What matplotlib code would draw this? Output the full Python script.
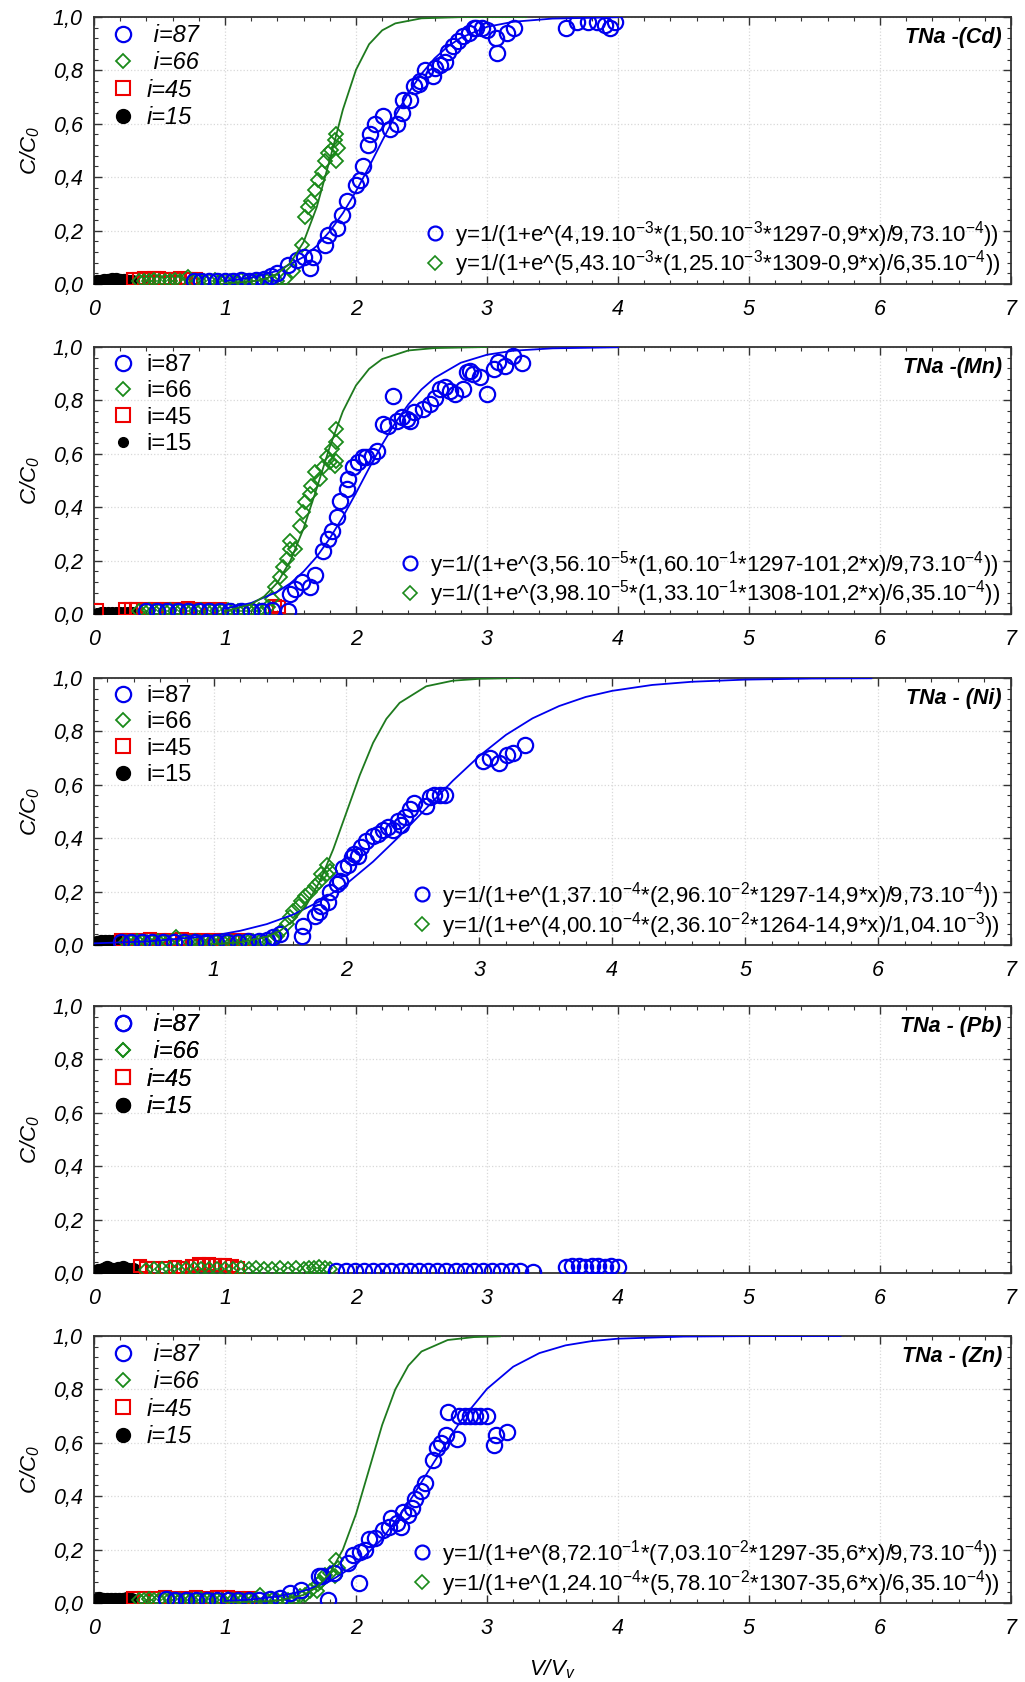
import matplotlib
matplotlib.use('Agg')
import matplotlib.pyplot as plt
from matplotlib.lines import Line2D
from matplotlib.ticker import MultipleLocator, AutoMinorLocator, FuncFormatter

plt.rcParams['font.family'] = ['Liberation Sans', 'DejaVu Sans']
plt.rcParams['font.style'] = 'italic'
plt.rcParams['mathtext.default'] = 'regular'

BLUE = '#0000ee'
GREEN = '#1a8a1a'
GREEN_LINE = '#1e7a1e'
RED = '#ee0000'

# ---------------------------------------------------------------- Cd
cd_x15 = [0.02, 0.05, 0.08, 0.11, 0.14, 0.17, 0.20, 0.23, 0.26, 0.29]
cd_y15 = [0.006, 0.008, 0.010, 0.012, 0.015, 0.013, 0.011, 0.010, 0.009, 0.008]
cd_x45 = [0.30, 0.34, 0.38, 0.42, 0.46, 0.50, 0.54, 0.58, 0.62, 0.66, 0.70, 0.74, 0.78]
cd_y45 = [0.018, 0.020, 0.021, 0.020, 0.022, 0.021, 0.020, 0.019, 0.020, 0.021, 0.019, 0.018, 0.017]
cd_x66 = [0.34, 0.38, 0.42, 0.46, 0.50, 0.54, 0.58, 0.62, 0.66, 0.72, 0.76, 0.80, 0.84, 0.88,
          0.92, 0.96, 1.00, 1.04, 1.08, 1.12, 1.16, 1.20, 1.24, 1.28, 1.32, 1.36, 1.40,
          1.46, 1.52, 1.585, 1.61, 1.636, 1.66, 1.687, 1.712, 1.738, 1.763, 1.79, 1.81, 1.84,
          1.85, 1.85, 1.865]
cd_y66 = [0.010, 0.012, 0.011, 0.013, 0.012, 0.010, 0.012, 0.013, 0.011, 0.027, 0.012, 0.010,
          0.012, 0.011, 0.013, 0.012, 0.010, 0.012, 0.011, 0.013, 0.012, 0.010, 0.011, 0.012,
          0.010, 0.011, 0.012,
          0.02, 0.05, 0.146, 0.25, 0.29, 0.31, 0.35, 0.39, 0.42, 0.46, 0.49, 0.50, 0.54,
          0.56, 0.46, 0.51]
cd_x87 = [0.76, 0.82, 0.88, 0.94, 1.00, 1.06, 1.12, 1.18, 1.24, 1.30, 1.35, 1.40, 1.48, 1.55,
          1.60, 1.649, 1.674, 1.763, 1.789, 1.852, 1.89, 1.929, 2.0, 2.03, 2.056, 2.094, 2.107,
          2.145, 2.21, 2.26, 2.31, 2.35, 2.36, 2.41, 2.44, 2.48, 2.49, 2.53, 2.59, 2.60, 2.64,
          2.68, 2.70, 2.74, 2.78, 2.82, 2.86, 2.90, 2.92, 2.96, 3.0, 3.08, 3.07, 3.15, 3.21,
          3.60, 3.69, 3.77, 3.84, 3.90, 3.94, 3.98]
cd_y87 = [0.010, 0.012, 0.011, 0.012, 0.010, 0.011, 0.013, 0.012, 0.015, 0.020, 0.030, 0.040,
          0.07, 0.09, 0.10, 0.059, 0.102, 0.146, 0.184, 0.21, 0.26, 0.31, 0.37, 0.39, 0.44,
          0.52, 0.56, 0.60, 0.63, 0.58, 0.60, 0.64, 0.69, 0.69, 0.74, 0.75, 0.76, 0.80, 0.78,
          0.81, 0.82, 0.83, 0.87, 0.89, 0.91, 0.93, 0.94, 0.96, 0.96, 0.96, 0.95, 0.865, 0.92,
          0.94, 0.96, 0.96, 0.98, 0.98, 0.98, 0.97, 0.96, 0.98]
cd_fx87 = [1.0, 1.2, 1.4, 1.6, 1.7, 1.8, 1.9, 2.0, 2.1, 2.2, 2.3, 2.4, 2.5, 2.6, 2.7, 2.8,
           3.0, 3.2, 3.5, 4.0]
cd_fy87 = [0.011, 0.023, 0.049, 0.101, 0.142, 0.197, 0.265, 0.347, 0.439, 0.536, 0.630, 0.715,
           0.787, 0.845, 0.889, 0.922, 0.963, 0.982, 0.994, 0.999]
cd_fx66 = [1.0, 1.2, 1.3, 1.4, 1.5, 1.6, 1.7, 1.8, 1.9, 2.0, 2.1, 2.2, 2.3, 2.5, 2.8, 3.3]
cd_fy66 = [0.002, 0.009, 0.018, 0.038, 0.079, 0.157, 0.287, 0.465, 0.653, 0.802, 0.898, 0.950,
           0.976, 0.995, 0.9995, 1.0]
cd_eq87 = 'y=1/(1+e^(4,19.10$^{-3}$*(1,50.10$^{-3}$*1297-0,9*x)/9,73.10$^{-4}$))'
cd_eq66 = 'y=1/(1+e^(5,43.10$^{-3}$*(1,25.10$^{-3}$*1309-0,9*x)/6,35.10$^{-4}$))'

# ---------------------------------------------------------------- Mn
mn_x15 = [0.02, 0.05, 0.08, 0.11, 0.14, 0.17, 0.20, 0.23, 0.26, 0.29]
mn_y15 = [0.005, 0.006, 0.007, 0.006, 0.008, 0.007, 0.006, 0.007, 0.008, 0.006]
mn_x45 = [0.02, 0.24, 0.28, 0.32, 0.40, 0.48, 0.56, 0.64, 0.72, 0.80, 0.88, 0.96, 1.38, 1.41]
mn_y45 = [0.015, 0.018, 0.020, 0.019, 0.018, 0.020, 0.019, 0.020, 0.021, 0.019, 0.018, 0.017,
          0.030, 0.025]
mn_x66 = [0.34, 0.38, 0.42, 0.46, 0.50, 0.54, 0.58, 0.62, 0.66, 0.70, 0.74, 0.78, 0.82, 0.86,
          0.90, 0.94, 0.98, 1.02, 1.06, 1.10, 1.14, 1.18, 1.22, 1.26, 1.30,
          1.33, 1.356, 1.38, 1.42, 1.445, 1.47, 1.496, 1.496, 1.534, 1.573, 1.598, 1.61, 1.649,
          1.66, 1.687, 1.725, 1.75, 1.776, 1.80, 1.814, 1.84, 1.85, 1.85, 1.85]
mn_y66 = [0.012, 0.011, 0.013, 0.012, 0.010, 0.012, 0.013, 0.011, 0.012, 0.010, 0.012, 0.011,
          0.013, 0.012, 0.010, 0.011, 0.012, 0.013, 0.011, 0.012, 0.010, 0.012, 0.011, 0.013,
          0.012,
          0.025, 0.056, 0.10, 0.137, 0.175, 0.206, 0.243, 0.275, 0.243, 0.33, 0.38, 0.418, 0.45,
          0.48, 0.53, 0.506, 0.55, 0.587, 0.57, 0.618, 0.556, 0.574, 0.643, 0.693]
mn_x87 = [0.40, 0.48, 0.56, 0.64, 0.72, 0.80, 0.88, 0.96, 1.04, 1.12, 1.20, 1.28, 1.36,
          1.483, 1.496, 1.534, 1.585, 1.649, 1.687, 1.751, 1.789, 1.814, 1.852, 1.878, 1.929,
          1.94, 1.98, 2.018, 2.056, 2.08, 2.12, 2.158, 2.209, 2.247, 2.285, 2.31, 2.35, 2.387,
          2.41, 2.44, 2.51, 2.565, 2.60, 2.64, 2.68, 2.72, 2.755, 2.82, 2.845, 2.87, 2.896,
          2.946, 3.0, 3.05, 3.086, 3.137, 3.20, 3.27]
mn_y87 = [0.010, 0.011, 0.012, 0.010, 0.011, 0.012, 0.010, 0.011, 0.012, 0.010, 0.011, 0.012,
          0.015,
          0.012, 0.075, 0.094, 0.119, 0.10, 0.144, 0.237, 0.281, 0.312, 0.362, 0.424, 0.468,
          0.506, 0.55, 0.568, 0.587, 0.587, 0.593, 0.612, 0.712, 0.705, 0.818, 0.724, 0.737,
          0.73, 0.724, 0.755, 0.768, 0.787, 0.81, 0.843, 0.85, 0.836, 0.824, 0.843, 0.905,
          0.911, 0.899, 0.886, 0.824, 0.918, 0.943, 0.93, 0.966, 0.94]
mn_fx87 = [1.0, 1.2, 1.4, 1.5, 1.6, 1.7, 1.8, 1.9, 2.0, 2.1, 2.2, 2.3, 2.4, 2.5, 2.6, 2.8,
           3.0, 3.2, 3.5, 4.0]
mn_fy87 = [0.020, 0.041, 0.083, 0.115, 0.159, 0.214, 0.283, 0.364, 0.453, 0.546, 0.635, 0.716,
           0.785, 0.841, 0.884, 0.941, 0.971, 0.986, 0.995, 0.999]
mn_fx66 = [1.0, 1.2, 1.3, 1.4, 1.5, 1.6, 1.7, 1.8, 1.9, 2.0, 2.1, 2.2, 2.4, 2.6, 3.0]
mn_fy66 = [0.010, 0.036, 0.066, 0.117, 0.200, 0.320, 0.470, 0.626, 0.759, 0.856, 0.918, 0.955,
           0.987, 0.996, 1.0]
mn_eq87 = 'y=1/(1+e^(3,56.10$^{-5}$*(1,60.10$^{-1}$*1297-101,2*x)/9,73.10$^{-4}$))'
mn_eq66 = 'y=1/(1+e^(3,98.10$^{-5}$*(1,33.10$^{-1}$*1308-101,2*x)/6,35.10$^{-4}$))'

# ---------------------------------------------------------------- Ni
ni_x15 = [0.12, 0.15, 0.18, 0.21, 0.24, 0.27, 0.30]
ni_y15 = [0.008, 0.010, 0.012, 0.011, 0.010, 0.012, 0.009]
ni_x45 = [0.30, 0.36, 0.44, 0.52, 0.60, 0.68, 0.76, 0.84, 0.92, 1.00, 1.08, 1.16, 1.24]
ni_y45 = [0.018, 0.020, 0.019, 0.021, 0.020, 0.019, 0.021, 0.020, 0.018, 0.019, 0.020, 0.019,
          0.018]
ni_x66 = [0.34, 0.38, 0.42, 0.46, 0.50, 0.54, 0.58, 0.62, 0.66, 0.72, 0.78, 0.82, 0.86, 0.90,
          0.94, 0.98, 1.02, 1.06, 1.10, 1.14, 1.18, 1.22, 1.26, 1.30, 1.34, 1.38, 1.42,
          1.45, 1.475, 1.51, 1.55, 1.575, 1.60, 1.64, 1.66, 1.69, 1.725, 1.76, 1.79, 1.81, 1.85,
          1.85, 1.875]
ni_y66 = [0.012, 0.011, 0.013, 0.012, 0.010, 0.012, 0.013, 0.011, 0.012, 0.03, 0.012, 0.011,
          0.013, 0.012, 0.010, 0.011, 0.012, 0.013, 0.011, 0.012, 0.010, 0.012, 0.011, 0.013,
          0.012, 0.011, 0.012,
          0.022, 0.035, 0.054, 0.079, 0.104, 0.129, 0.147, 0.166, 0.185, 0.197, 0.222, 0.235,
          0.266, 0.266, 0.30, 0.278]
ni_x87 = [0.30, 0.38, 0.46, 0.54, 0.62, 0.70, 0.78, 0.86, 0.94, 1.02, 1.10, 1.18, 1.26, 1.34,
          1.40, 1.45, 1.50,
          1.6625, 1.675, 1.7625, 1.79, 1.81, 1.86, 1.875, 1.925, 1.95, 1.975, 2.01, 2.04, 2.06,
          2.09, 2.11, 2.15, 2.20, 2.24, 2.275, 2.31, 2.35, 2.39, 2.41, 2.44, 2.475, 2.51, 2.60,
          2.625, 2.66, 2.70, 2.74, 3.03, 3.08, 3.15, 3.21, 3.25, 3.34]
ni_y87 = [0.010, 0.011, 0.012, 0.010, 0.011, 0.012, 0.010, 0.011, 0.012, 0.010, 0.011, 0.012,
          0.013, 0.015, 0.02, 0.03, 0.04,
          0.035, 0.072, 0.11, 0.122, 0.147, 0.16, 0.20, 0.228, 0.24, 0.29, 0.30, 0.33, 0.34,
          0.335, 0.366, 0.39, 0.41, 0.416, 0.43, 0.44, 0.43, 0.466, 0.45, 0.48, 0.51, 0.53,
          0.52, 0.553, 0.56, 0.56, 0.56, 0.69, 0.70, 0.68, 0.71, 0.72, 0.75]
ni_fx87 = [0.1, 0.5, 1.0, 1.2, 1.4, 1.6, 1.8, 2.0, 2.2, 2.4, 2.6, 2.8, 3.0, 3.2, 3.4, 3.6,
           3.8, 4.0, 4.3, 4.6, 5.0, 5.5, 5.95]
ni_fy87 = [0.006, 0.013, 0.035, 0.053, 0.078, 0.114, 0.164, 0.229, 0.312, 0.408, 0.512, 0.615,
           0.708, 0.787, 0.849, 0.895, 0.929, 0.952, 0.974, 0.986, 0.994, 0.998, 0.999]
ni_fx66 = [1.0, 1.2, 1.4, 1.5, 1.6, 1.7, 1.8, 1.9, 2.0, 2.1, 2.2, 2.3, 2.4, 2.6, 2.8, 3.0, 3.3]
ni_fy66 = [0.003, 0.010, 0.031, 0.053, 0.091, 0.151, 0.239, 0.358, 0.497, 0.636, 0.757, 0.847,
           0.907, 0.969, 0.990, 0.997, 1.0]
ni_eq87 = 'y=1/(1+e^(1,37.10$^{-4}$*(2,96.10$^{-2}$*1297-14,9*x)/9,73.10$^{-4}$))'
ni_eq66 = 'y=1/(1+e^(4,00.10$^{-4}$*(2,36.10$^{-2}$*1264-14,9*x)/1,04.10$^{-3}$))'

# ---------------------------------------------------------------- Pb
pb_x15 = [0.03, 0.07, 0.10, 0.14, 0.18, 0.22, 0.26, 0.30]
pb_y15 = [0.008, 0.012, 0.020, 0.012, 0.016, 0.020, 0.012, 0.010]
pb_x45 = [0.35, 0.40, 0.45, 0.55, 0.62, 0.68, 0.75, 0.80, 0.84, 0.88, 0.92, 0.96, 1.00, 1.05,
          1.10]
pb_y45 = [0.025, 0.020, 0.018, 0.020, 0.022, 0.020, 0.025, 0.035, 0.030, 0.032, 0.030, 0.030,
          0.028, 0.025, 0.020]
pb_x66 = [0.40, 0.46, 0.52, 0.58, 0.64, 0.70, 0.76, 0.82, 0.88, 0.94, 1.00, 1.06, 1.12, 1.18,
          1.24, 1.30, 1.36, 1.42, 1.48, 1.54, 1.60, 1.64, 1.68, 1.72, 1.76, 1.80]
pb_y66 = [0.012, 0.015, 0.013, 0.014, 0.012, 0.015, 0.013, 0.014, 0.016, 0.015, 0.013, 0.014,
          0.018, 0.015, 0.017, 0.016, 0.014, 0.018, 0.015, 0.017, 0.016, 0.020, 0.018, 0.022,
          0.019, 0.015]
pb_x87 = [1.85, 1.92, 1.99, 2.06, 2.13, 2.20, 2.27, 2.34, 2.41, 2.48, 2.55, 2.62, 2.69, 2.76,
          2.83, 2.90, 2.97, 3.04, 3.11, 3.18, 3.25, 3.35,
          3.60, 3.65, 3.70, 3.75, 3.80, 3.85, 3.90, 3.95, 4.00]
pb_y87 = [0.006, 0.006, 0.007, 0.006, 0.006, 0.007, 0.006, 0.006, 0.007, 0.006, 0.006, 0.007,
          0.006, 0.006, 0.007, 0.006, 0.006, 0.007, 0.006, 0.006, 0.007, 0.005,
          0.022, 0.026, 0.025, 0.024, 0.025, 0.026, 0.024, 0.025, 0.024]

# ---------------------------------------------------------------- Zn
zn_x15 = [0.04, 0.07, 0.10, 0.13, 0.16, 0.19, 0.22, 0.25, 0.28]
zn_y15 = [0.015, 0.012, 0.010, 0.012, 0.011, 0.010, 0.012, 0.013, 0.011]
zn_x45 = [0.30, 0.38, 0.46, 0.54, 0.62, 0.70, 0.78, 0.86, 0.94, 1.02, 1.10, 1.18]
zn_y45 = [0.018, 0.020, 0.019, 0.021, 0.020, 0.019, 0.021, 0.020, 0.022, 0.021, 0.020, 0.019]
zn_x66 = [0.34, 0.38, 0.42, 0.46, 0.50, 0.54, 0.58, 0.62, 0.66, 0.70, 0.74, 0.78, 0.82, 0.86,
          0.90, 0.94, 0.98, 1.02, 1.06, 1.10, 1.14, 1.18, 1.22, 1.27, 1.32, 1.36, 1.40, 1.44,
          1.48, 1.52, 1.57, 1.61, 1.65, 1.70, 1.71, 1.725, 1.76, 1.80, 1.84, 1.85, 1.865]
zn_y66 = [0.012, 0.011, 0.013, 0.012, 0.010, 0.012, 0.013, 0.011, 0.012, 0.010, 0.012, 0.011,
          0.013, 0.012, 0.010, 0.011, 0.012, 0.013, 0.011, 0.012, 0.010, 0.012, 0.011, 0.030,
          0.012, 0.011, 0.012, 0.010, 0.011, 0.012, 0.025, 0.030, 0.044, 0.044, 0.07, 0.08,
          0.106, 0.112, 0.10, 0.16, 0.13]
zn_x87 = [0.55, 0.62, 0.70, 0.78, 0.86, 0.94, 1.02, 1.10, 1.18, 1.26, 1.34, 1.42,
          1.50, 1.58, 1.72, 1.74, 1.79, 1.83, 1.94, 1.98, 2.02, 2.03, 2.07, 2.10, 2.145, 2.21,
          2.25, 2.27, 2.31, 2.34, 2.36, 2.40, 2.425, 2.45, 2.50, 2.53, 2.59, 2.616, 2.65, 2.69,
          2.705, 2.77, 2.79, 2.83, 2.87, 2.91, 2.95, 3.0, 3.05, 3.07, 3.15]
zn_y87 = [0.015, 0.012, 0.011, 0.012, 0.010, 0.011, 0.012, 0.010, 0.011, 0.012, 0.013, 0.020,
          0.037, 0.05, 0.10, 0.10, 0.01, 0.112, 0.15, 0.18, 0.075, 0.19, 0.20, 0.24, 0.243,
          0.274, 0.286, 0.318, 0.30, 0.286, 0.34, 0.33, 0.355, 0.39, 0.42, 0.45, 0.535, 0.58,
          0.60, 0.63, 0.716, 0.616, 0.70, 0.70, 0.70, 0.70, 0.70, 0.70, 0.59, 0.63, 0.64]
zn_fx87 = [1.0, 1.2, 1.4, 1.6, 1.8, 2.0, 2.2, 2.4, 2.6, 2.8, 3.0, 3.2, 3.4, 3.6, 3.8, 4.0,
           4.5, 5.0, 5.7]
zn_fy87 = [0.007, 0.013, 0.024, 0.045, 0.081, 0.143, 0.240, 0.374, 0.531, 0.682, 0.802, 0.885,
           0.936, 0.965, 0.981, 0.990, 0.998, 0.9996, 1.0]
zn_fx66 = [1.0, 1.4, 1.6, 1.7, 1.8, 1.9, 2.0, 2.1, 2.2, 2.3, 2.4, 2.5, 2.7, 2.9, 3.1]
zn_fy66 = [0.001, 0.008, 0.030, 0.058, 0.111, 0.200, 0.333, 0.500, 0.667, 0.800, 0.889, 0.942,
           0.985, 0.996, 0.999]
zn_eq87 = 'y=1/(1+e^(8,72.10$^{-1}$*(7,03.10$^{-2}$*1297-35,6*x)/9,73.10$^{-4}$))'
zn_eq66 = 'y=1/(1+e^(1,24.10$^{-4}$*(5,78.10$^{-2}$*1307-35,6*x)/6,35.10$^{-4}$))'

titles = ['TNa -(Cd)', 'TNa -(Mn)', 'TNa - (Ni)', 'TNa - (Pb)', 'TNa - (Zn)']

panels = [
    dict(title=titles[0], xmin=0.0, black_ms=10, leg_italic=True,
         s15=(cd_x15, cd_y15), s45=(cd_x45, cd_y45), s66=(cd_x66, cd_y66), s87=(cd_x87, cd_y87),
         f87=(cd_fx87, cd_fy87), f66=(cd_fx66, cd_fy66), eqs=(cd_eq87, cd_eq66)),
    dict(title=titles[1], xmin=0.0, black_ms=7, leg_italic=False,
         s15=(mn_x15, mn_y15), s45=(mn_x45, mn_y45), s66=(mn_x66, mn_y66), s87=(mn_x87, mn_y87),
         f87=(mn_fx87, mn_fy87), f66=(mn_fx66, mn_fy66), eqs=(mn_eq87, mn_eq66)),
    dict(title=titles[2], xmin=0.1, black_ms=10, leg_italic=False,
         s15=(ni_x15, ni_y15), s45=(ni_x45, ni_y45), s66=(ni_x66, ni_y66), s87=(ni_x87, ni_y87),
         f87=(ni_fx87, ni_fy87), f66=(ni_fx66, ni_fy66), eqs=(ni_eq87, ni_eq66)),
    dict(title=titles[3], xmin=0.0, black_ms=10, leg_italic=True,
         s15=(pb_x15, pb_y15), s45=(pb_x45, pb_y45), s66=(pb_x66, pb_y66), s87=(pb_x87, pb_y87),
         f87=None, f66=None, eqs=None),
    dict(title=titles[4], xmin=0.0, black_ms=10, leg_italic=True,
         s15=(zn_x15, zn_y15), s45=(zn_x45, zn_y45), s66=(zn_x66, zn_y66), s87=(zn_x87, zn_y87),
         f87=(zn_fx87, zn_fy87), f66=(zn_fx66, zn_fy66), eqs=(zn_eq87, zn_eq66)),
]

fig = plt.figure(figsize=(10.25, 16.82), dpi=100)
bottoms = [0.8312, 0.6350, 0.4382, 0.2432, 0.0470]
AX_L, AX_W, AX_H = 0.0917, 0.8946, 0.1587

comma = FuncFormatter(lambda v, p: ('%.1f' % v).replace('.', ','))

for i, p in enumerate(panels):
    ax = fig.add_axes([AX_L, bottoms[i], AX_W, AX_H])

    ax.plot(*p['s15'], ls='none', marker='o', ms=p['black_ms'], mfc='black', mec='black', zorder=3)
    ax.plot(*p['s45'], ls='none', marker='s', ms=9, mfc='none', mec=RED, mew=1.5, zorder=3)
    ax.plot(*p['s66'], ls='none', marker='D', ms=7, mfc='none', mec=GREEN, mew=1.3, zorder=4)
    ax.plot(*p['s87'], ls='none', marker='o', ms=11, mfc='none', mec=BLUE, mew=1.6, zorder=5)
    if p['f87'] is not None:
        ax.plot(*p['f87'], color=BLUE, lw=1.3, zorder=6)
        ax.plot(*p['f66'], color=GREEN_LINE, lw=1.3, zorder=6)

    ax.set_xlim(p['xmin'], 7)
    ax.set_ylim(0, 1)
    ax.xaxis.set_major_locator(MultipleLocator(1))
    ax.xaxis.set_minor_locator(AutoMinorLocator(5))
    ax.yaxis.set_major_locator(MultipleLocator(0.2))
    ax.yaxis.set_minor_locator(AutoMinorLocator(5))
    ax.yaxis.set_major_formatter(comma)
    ax.tick_params(which='both', direction='in', top=True, right=True, color='#333333')
    ax.tick_params(which='major', length=6, width=1.0, labelsize=15.5, pad=8)
    ax.tick_params(axis='x', which='major', pad=11)
    ax.tick_params(which='minor', length=3, width=0.8)
    ax.grid(True, which='major', color='#d8d8d8', ls=':', lw=0.9)
    for s in ax.spines.values():
        s.set_color('#333333')
        s.set_linewidth(1.3)
    ax.set_ylabel('C/C$_0$', fontsize=16, labelpad=8)

    ax.text(0.99, 0.922, p['title'], transform=ax.transAxes, ha='right', va='center',
            fontsize=15.5, fontweight='bold', fontstyle='italic')

    handles = [
        Line2D([], [], ls='none', marker='o', ms=11, mfc='none', mec=BLUE, mew=1.6),
        Line2D([], [], ls='none', marker='D', ms=7, mfc='none', mec=GREEN, mew=1.3),
        Line2D([], [], ls='none', marker='s', ms=10, mfc='none', mec=RED, mew=1.5),
        Line2D([], [], ls='none', marker='o', ms=p['black_ms'], mfc='black', mec='black'),
    ]
    if p['leg_italic']:
        labels = [' i=87', ' i=66', 'i=45', 'i=15']
        lstyle = 'italic'
    else:
        labels = ['i=87', 'i=66', 'i=45', 'i=15']
        lstyle = 'normal'
    leg1 = ax.legend(handles, labels, loc='upper left', frameon=False,
                     prop={'size': 17, 'style': lstyle}, handlelength=1.0,
                     handletextpad=0.5, labelspacing=0.18, borderaxespad=0.1,
                     borderpad=0.2, bbox_to_anchor=(0.011, 1.0))
    ax.add_artist(leg1)

    if p['eqs'] is not None:
        eh = [Line2D([], [], ls='none', marker='o', ms=10, mfc='none', mec=BLUE, mew=1.6),
              Line2D([], [], ls='none', marker='D', ms=7, mfc='none', mec=GREEN, mew=1.2)]
        ax.legend(eh, list(p['eqs']), loc='lower right', frameon=False,
                  prop={'size': 16, 'style': 'normal'}, handlelength=1.0,
                  handletextpad=0.4, labelspacing=-0.05, borderaxespad=0.0, borderpad=0.2,
                  bbox_to_anchor=(0.993, 0.0))

    if i == len(panels) - 1:
        ax.set_xlabel('V/V$_v$', fontsize=16, labelpad=13)

fig.savefig('out.png', dpi=100)
